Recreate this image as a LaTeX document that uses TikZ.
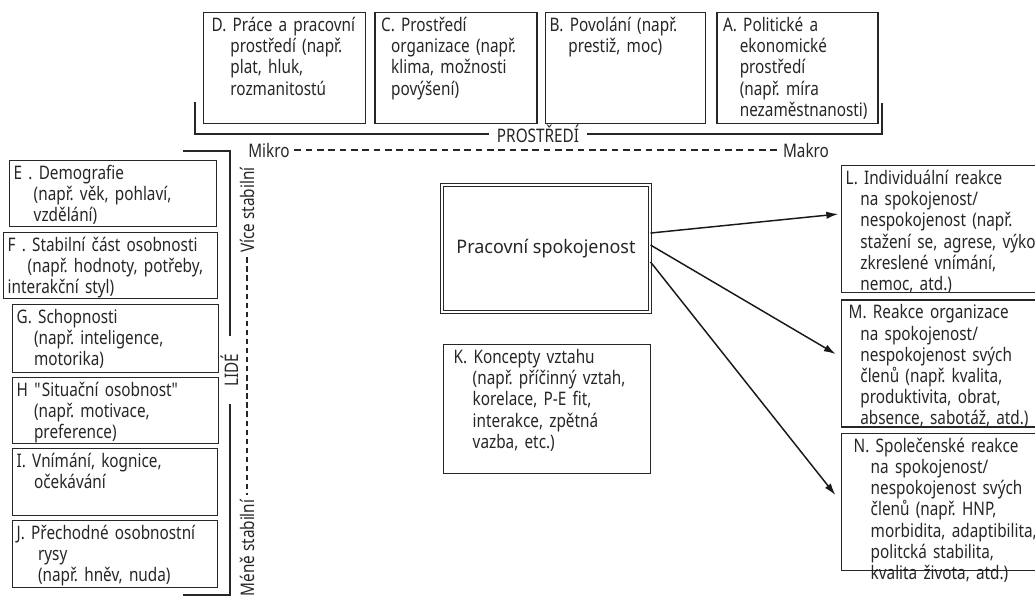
\documentclass[tikz,border=0pt]{standalone}
\usepackage{fontspec}
\setmainfont{Noto Sans}[FakeStretch=0.82]
\newfontfamily\psfont{Noto Sans}[FakeStretch=0.96]
\usetikzlibrary{arrows.meta,positioning}
\newcommand{\indt}[1][14pt]{\hspace*{#1}}

\begin{document}
\frenchspacing
\hyphenpenalty=10000
\exhyphenpenalty=10000
\begin{tikzpicture}[x=0.75pt,y=-0.75pt,
    font=\fontsize{14}{15.9}\selectfont, text=black!85,
    >={Latex[length=9pt,width=5.5pt]},
    box/.style 2 args={draw=black!85, line width=1.1pt, anchor=north west,
      inner xsep=3pt, inner ysep=3pt, align=left, text height=11pt,
      text width=#1, text depth=#2},
    mainbox/.style={draw=black!85, double, double distance=1.5pt, line width=0.8pt,
      minimum width=156pt, minimum height=95.5pt, font=\psfont\fontsize{14}{15.9}\selectfont},
    brace/.style={draw=black!85, line width=1pt},
    hdash/.style={draw=black!85, line width=1pt, dash pattern=on 5pt off 3.5pt},
    vdash/.style={draw=black!85, line width=1pt, dash pattern=on 4pt off 2.8pt},
    arrowline/.style={draw=black!90, line width=1.1pt}]
  \useasboundingbox (0,0) rectangle (1035,600);

  % prostredi (makro -- mikro)
  \node [box={115.5pt}{66.25pt}] (D) at (203,12) {\indt[3pt]D. Práce a pracovní\\ \indt[17pt]prostředí (např.\\ \indt[17pt]plat, hluk,\\ \indt[17pt]rozmanitostú};
  \node [box={115.5pt}{66.25pt}] (C) [right=6pt of D] {\indt[1.5pt]C. Prostředí\\ \indt[9pt]organizace (např.\\ \indt[9pt]klima, možnosti\\ \indt[9pt]povýšení)};
  \node [box={114pt}{66.25pt}] (B) [right=5.25pt of C] {B. Povolání (např.\\ \indt prestiž, moc)};
  \node [box={114.75pt}{66.25pt}] (A) [right=7.5pt of B] {\indt[1.5pt]A. Politické a\\ \indt[14pt]ekonomické\\ \indt[14pt]prostředí\\ \indt[14pt](např. míra\\ \indt[14pt]nezaměstnanosti)};

  \node [inner xsep=6pt] (prostredi) at (538,134) {PROSTŘEDÍ};
  \draw [brace] (prostredi.west) -- (195,134) -- (195,102);
  \draw [brace] (prostredi.east) -- (882,134) -- (882,103);
  \node (mikro) at (269,150) {Mikro};
  \node (makro) at (806,150) {Makro};
  \draw [hdash] (mikro) -- (makro);

  % lide
  \node [box={149.25pt}{32.5pt}] (E) at (9,160) {E . Demografie\\ \indt[15pt](např. věk, pohlaví,\\ \indt[15pt]vzdělání)};
  \node [box={154.5pt}{32.5pt}] (F) at (3,232) {F . Stabilní část osobnosti\\ \indt[15pt](např. hodnoty, potřeby,\\ interakční styl)};
  \node [box={148.5pt}{34pt}] (G) at (12,304) {G. Schopnosti\\ \indt[13pt](např. inteligence,\\ \indt[13pt]motorika)};
  \node [box={148.5pt}{32.5pt}] (H) at (12,377) {H \textquotedbl Situační osobnost\textquotedbl\\ \indt[13pt](např. motivace,\\ \indt[13pt]preference)};
  \node [box={147.75pt}{33.25pt}] (I) at (12,448) {I. Vnímání, kognice,\\ \indt[13pt]očekávání};
  \node [box={147.75pt}{33.25pt}] (J) at (12,520) {J. Přechodné osobnostní\\ \indt[16pt]rysy\\ \indt[16pt](např. hněv, nuda)};

  \node [rotate=90, inner xsep=13pt] (lide) at (230,370) {LIDÉ};
  \draw [brace] (lide.east) |- (183,151);
  \draw [brace] (lide.west) |- (183,595);
  \node [rotate=90] (vice) at (247,210) {Více stabilní};
  \node [rotate=90] (mene) at (247,548) {Méně stabilní};
  \draw [vdash] (vice) -- (mene);

  % spokojenost
  \node [mainbox] (ps) at (546,248.5) {Pracovní spokojenost};
  \node [box={149.25pt}{79.75pt}] (K) at (443,344) {\indt[4.5pt]K. Koncepty vztahu\\ \indt[18.75pt](např. příčinný vztah,\\ \indt[18.75pt]korelace, P-E fit,\\ \indt[18.75pt]interakce, zpětná\\ \indt[18.75pt]vazba, etc.)};

  % reakce
  \node [box={165pt}{78.25pt}] (L) at (841,165) {L. Individuální reakce\\ \indt[11pt]na spokojenost/\\ \indt[11pt]nespokojenost (např.\\ \indt[11pt]\mbox{stažení se, agrese, výkon,}\\ \indt[11pt]zkreslené vnímání,\\ \indt[11pt]nemoc, atd.)};
  \node [box={165pt}{78.25pt}] (M) [below=4.5pt of L] {\indt[2.25pt]M. Reakce organizace\\ \indt[11pt]na spokojenost/\\ \indt[11pt]nespokojenost svých\\ \indt[11pt]členů (např. kvalita,\\ \indt[11pt]produktivita, obrat,\\ \indt[11pt]absence, sabotáž, atd.)};
  \node [box={165pt}{85.75pt}] (N) [below=3.75pt of M] {\indt[6pt]N. Společenské reakce\\ \indt[18.75pt]na spokojenost/\\ \indt[18.75pt]nespokojenost svých\\ \indt[18.75pt]členů (např. HNP,\\ \indt[18.75pt]morbidita, adaptibilita,\\ \indt[18.75pt]politcká stabilita,\\ \indt[18.75pt]kvalita života, atd.)};

  \draw [->, arrowline, shorten >=2pt] ([yshift=11.6pt]ps.east) -- ([yshift=11.6pt]L.west);
  \draw [->, arrowline, shorten >=4.5pt] ([yshift=2.6pt]ps.east) -- ([yshift=4.9pt]M.west);
  \draw [->, arrowline, shorten >=6.75pt] ([yshift=-10.1pt]ps.east) -- (N.west);
\end{tikzpicture}
\end{document}
